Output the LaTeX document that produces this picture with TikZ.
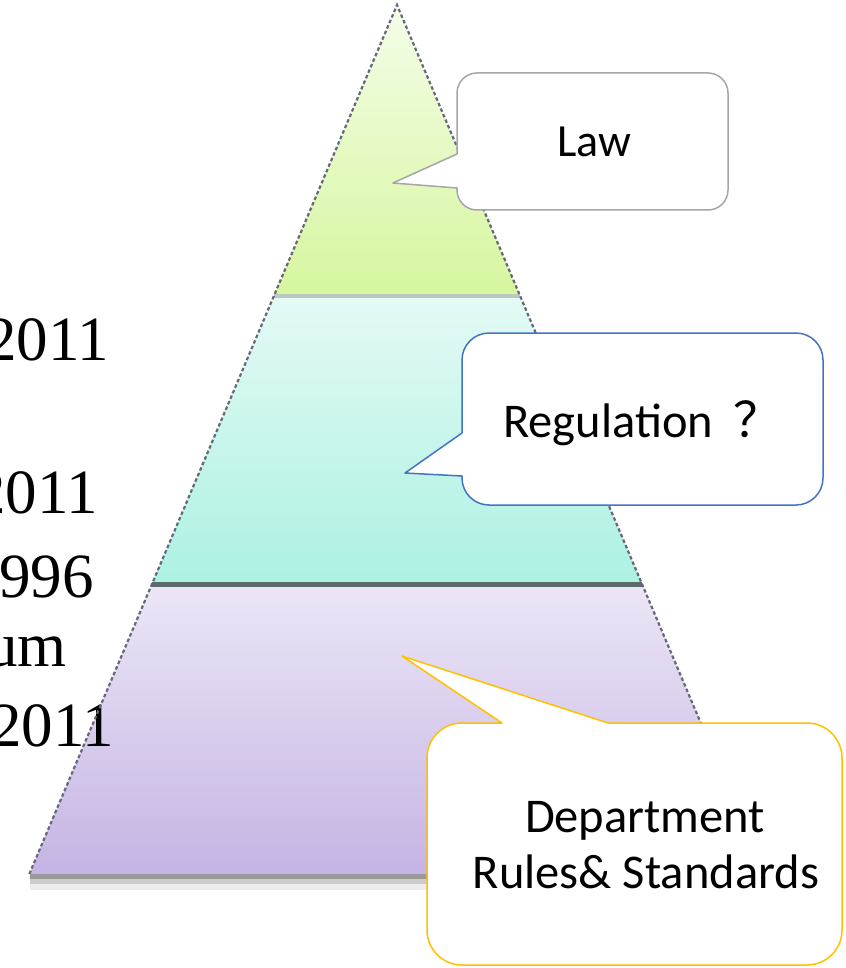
\documentclass[tikz,border=0pt]{standalone}
\usepackage{fontspec}
\setmainfont{Liberation Serif}
\newfontfamily\calib{Carlito}
\newfontfamily\cjk{Noto Sans CJK SC}
\definecolor{greenT}{HTML}{F4FDE9}
\definecolor{greenB}{HTML}{D6F69E}
\definecolor{cyanT}{HTML}{E4FAF5}
\definecolor{cyanB}{HTML}{ACF1E2}
\definecolor{purpT}{HTML}{ECE6F6}
\definecolor{purpB}{HTML}{C5B4E4}
\definecolor{sepA}{HTML}{BCC7C2}
\definecolor{sepB}{HTML}{5B6A6A}
\definecolor{edgeC}{HTML}{66687A}
\definecolor{lawC}{HTML}{A6A6A6}
\definecolor{regC}{HTML}{4472C4}
\definecolor{depC}{HTML}{FFC000}
\begin{document}
\begin{tikzpicture}[x=1pt,y=-1pt,
  edge/.style={draw=edgeC, line width=2.2pt, dash pattern=on 3.5pt off 2.5pt},
  lefttxt/.style={anchor=base east, inner sep=0pt, font=\fontsize{63}{75}\selectfont},
  bubble/.style={fill=white, line width=1.5pt, line join=round},
  btext/.style={font=\calib\fontsize{48.5}{58}\selectfont, inner sep=0pt, align=center}]
\useasboundingbox (0,0) rectangle (845,968);
% pyramid geometry
\coordinate (apex) at (397,5);
\coordinate (l1) at (273.7,296); \coordinate (r1) at (520.3,296);
\coordinate (l2) at (151.7,584); \coordinate (r2) at (642.3,584);
\coordinate (l3) at (29.3,874); \coordinate (r3) at (764.7,874);
% bottom shadow
\fill[black!7] (30,884) rectangle (766,890);
\fill[black!20] (30,879) rectangle (766,884);
\fill[black!40] (30,874) rectangle (766,879);
% layers
\shade[top color=greenT, bottom color=greenB] (apex) -- (r1) -- (l1) -- cycle;
\shade[top color=cyanT, bottom color=cyanB] (l1) -- (r1) -- (r2) -- (l2) -- cycle;
\shade[top color=purpT, bottom color=purpB] (l2) -- (r2) -- (r3) -- (l3) -- cycle;
\draw[line width=4pt, sepA] (l1) -- (r1);
\draw[line width=5pt, sepB] (l2) -- (r2);
% left text fragments
\begin{scope}
\clip (0,0) rectangle (845,968);
\node[lefttxt] (t1) at (109,360) {2011};
\node[lefttxt] (t2) at (98,513) {2011};
\node[lefttxt] (t3) at (94,597) {996};
\node[lefttxt] (t4) at (67,666) {um};
\node[lefttxt] (t5) at (114,746) {2011};
\end{scope}
\draw[edge] (l3) -- (apex) -- (r3);
% Law callout
\draw[bubble, draw=lawC] (457,154) [rounded corners=20pt] -- (457,73) -- (728,73) -- (728,210) -- (457,210) [sharp corners] -- (457,188) -- (393,183) -- cycle;
\node[btext, font=\calib\fontsize{46}{56}\selectfont, anchor=base west] (law) at (557,157) {Law};
% Regulation callout
\draw[bubble, draw=regC] (462,433) [rounded corners=27pt] -- (462,333) -- (823,333) -- (823,505) -- (462,505) [sharp corners] -- (462,476) -- (405,473) -- cycle;
\node[btext, anchor=base west] (reg) at (503,437) {Regulation {\cjk\hspace{9pt}？}};
% Department callout
\draw[bubble, draw=depC] (608,723) [rounded corners=35pt] -- (842,723) -- (842,965) -- (427,965) -- (427,723) [sharp corners] -- (502,723) -- (402,656) -- cycle;
\node[btext, anchor=base] (dep1) at (645,832) {Department};
\node[btext, anchor=base] (dep2) at (646,888) {Rules\& Standards};
\end{tikzpicture}
\end{document}
